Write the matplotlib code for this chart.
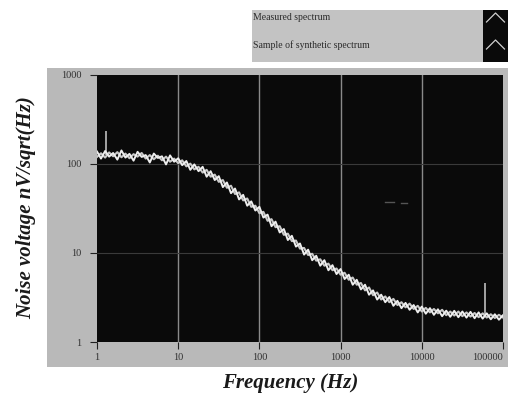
import matplotlib
matplotlib.use('Agg')
import matplotlib.pyplot as plt
from matplotlib.patches import Rectangle

# frequency grid (Hz), 20 points per decade
freq_hz = [
    1.00, 1.12, 1.26, 1.41, 1.58, 1.78, 2.00, 2.24, 2.51, 2.82,
    3.16, 3.55, 3.98, 4.47, 5.01, 5.62, 6.31, 7.08, 7.94, 8.91,
    10.0, 11.2, 12.6, 14.1, 15.8, 17.8, 20.0, 22.4, 25.1, 28.2,
    31.6, 35.5, 39.8, 44.7, 50.1, 56.2, 63.1, 70.8, 79.4, 89.1,
    100, 112, 126, 141, 158, 178, 200, 224, 251, 282,
    316, 355, 398, 447, 501, 562, 631, 708, 794, 891,
    1000, 1120, 1260, 1410, 1580, 1780, 2000, 2240, 2510, 2820,
    3160, 3550, 3980, 4470, 5010, 5620, 6310, 7080, 7940, 8910,
    10000, 11200, 12600, 14100, 15800, 17800, 20000, 22400, 25100, 28200,
    31600, 35500, 39800, 44700, 50100, 56200, 63100, 70800, 79400, 89100,
    100000,
]

# measured noise spectrum, nV/sqrt(Hz)
measured = [
    138, 115, 140, 121, 133, 112, 142, 118, 130, 109,
    137, 120, 126, 104, 131, 117, 122, 99, 125, 106,
    116, 97, 108, 86, 99, 83, 93, 72, 83, 66,
    73, 55, 62, 47, 53, 40, 45, 34, 38, 30,
    33, 25, 27, 20, 22.5, 17, 18.6, 14, 15.6, 11.8,
    12.8, 9.6, 10.9, 8.3, 9.3, 7.2, 8.3, 6.4, 7.3, 5.8,
    6.6, 5.1, 5.7, 4.4, 5.0, 3.9, 4.4, 3.4, 3.8, 3.0,
    3.4, 2.8, 3.2, 2.55, 2.9, 2.4, 2.75, 2.3, 2.6, 2.15,
    2.5, 2.08, 2.4, 2.02, 2.33, 1.95, 2.25, 1.92, 2.24, 1.9,
    2.2, 1.88, 2.18, 1.85, 2.15, 1.83, 2.1, 1.8, 2.05, 1.78,
    2.0,
]

# sample of synthetic spectrum, nV/sqrt(Hz)
synthetic = [
    120, 132, 118, 135, 122, 136, 119, 131, 116, 129,
    121, 133, 115, 126, 113, 124, 110, 121, 106, 115,
    102, 110, 94, 101, 87, 93, 80, 86, 72, 76,
    63, 66, 54, 57, 46, 48, 39, 41, 33, 34,
    28, 29, 23, 24, 19.5, 20, 16, 16.5, 13.6, 13.8,
    11.2, 11.4, 9.5, 9.8, 8.2, 8.5, 7.2, 7.6, 6.4, 6.7,
    5.7, 6.0, 5.0, 5.3, 4.4, 4.6, 3.8, 4.1, 3.35, 3.6,
    3.0, 3.25, 2.8, 3.05, 2.6, 2.8, 2.45, 2.7, 2.35, 2.55,
    2.2, 2.42, 2.15, 2.35, 2.1, 2.3, 2.0, 2.2, 1.98, 2.2,
    1.95, 2.15, 1.93, 2.12, 1.9, 2.1, 1.88, 2.05, 1.86, 2.02,
    1.88,
]

# isolated spikes (freq, low, high)
spike_freq = [1.3, 60000]
spike_low = [125, 1.95]
spike_high = [235, 4.6]

# faint stray marks
stray_freq = [3500, 4500, 5600, 6600]
stray_val = [37, 37, 36, 36]

x_ticks = [1, 10, 100, 1000, 10000, 100000]
x_tick_labels = ['1', '10', '100', '1000', '10000', '100000']
y_ticks = [1, 10, 100, 1000]
y_tick_labels = ['1', '10', '100', '1000']

legend_labels = ['Measured spectrum', 'Sample of synthetic spectrum']

W, H = 508, 398
fig = plt.figure(figsize=(W / 100, H / 100), dpi=100)
fig.patch.set_facecolor('white')

serif = ['Liberation Serif', 'DejaVu Serif']

# gray panel behind the plot
fig.patches.append(Rectangle((47 / W, 1 - 367 / H), (W - 47) / W, 299 / H,
                             transform=fig.transFigure, facecolor='#b9b9b9',
                             edgecolor='none', zorder=-2))
# legend panel
fig.patches.append(Rectangle((252 / W, 1 - 62 / H), 231 / W, 52 / H,
                             transform=fig.transFigure, facecolor='#c3c3c3',
                             edgecolor='none', zorder=-2))
fig.patches.append(Rectangle((483 / W, 1 - 62 / H), 25 / W, 52 / H,
                             transform=fig.transFigure, facecolor='#0a0a0a',
                             edgecolor='none', zorder=-1))
for i, lab in enumerate(legend_labels):
    ypix = 18 + i * 27
    fig.text(253 / W, 1 - ypix / H, lab, fontsize=7, family=serif,
             color='#2a2a2a', va='center', ha='left')
    # little caret glyph in the black swatch
    cx = 495.5 / W
    cy = 1 - (ypix - 1) / H
    fig.lines.append(plt.Line2D([cx - 9 / W, cx, cx + 9 / W],
                                [cy - 5 / H, cy + 4 / H, cy - 5 / H],
                                transform=fig.transFigure, color='#d0d0d0',
                                lw=0.9, zorder=2))

ax = fig.add_axes([97 / W, 1 - 342 / H, (503 - 97) / W, (342 - 75) / H])
ax.set_zorder(3)
ax.set_facecolor('#0a0a0a')
ax.set_xscale('log')
ax.set_yscale('log')
ax.set_xlim(1, 100000)
ax.set_ylim(1, 1000)

for xv in x_ticks[1:-1]:
    ax.axvline(xv, color='#8a8a8a', lw=1.0, zorder=1)
for yv in y_ticks[1:-1]:
    ax.axhline(yv, color='#3a3a3a', lw=0.8, zorder=1)

ax.plot(freq_hz, synthetic, color='#c8c8c8', lw=1.5, zorder=3)
ax.plot(freq_hz, measured, color='#eeeeee', lw=1.4, zorder=4)
ax.vlines(spike_freq, spike_low, spike_high, color='#bdbdbd', lw=1.2, zorder=3)
ax.plot(stray_freq[:2], stray_val[:2], color='#555555', lw=1.0, zorder=2)
ax.plot(stray_freq[2:], stray_val[2:], color='#555555', lw=1.0, zorder=2)

ax.set_xticks(x_ticks)
ax.set_xticklabels(x_tick_labels)
ax.set_yticks(y_ticks)
ax.set_yticklabels(y_tick_labels)
ax.minorticks_off()
ax.tick_params(direction='out', length=5, width=0.8, color='#202020',
               labelsize=7.5, labelcolor='#303030', pad=3)
ax.tick_params(axis='y', pad=6)
for lab in ax.get_xticklabels() + ax.get_yticklabels():
    lab.set_family(serif)
ax.get_xticklabels()[-1].set_horizontalalignment('right')
for side in ['top', 'right', 'left', 'bottom']:
    ax.spines[side].set_visible(False)

fig.text(290 / W, 1 - 383 / H, 'Frequency (Hz)', fontsize=15, family=serif,
         style='italic', weight='bold', color='#1a1a1a',
         ha='center', va='center')
fig.text(26 / W, 1 - 208 / H, 'Noise voltage nV/sqrt(Hz)', fontsize=15,
         family=serif, style='italic', weight='bold', color='#1a1a1a',
         rotation=90, ha='center', va='center')

fig.savefig('out.png', dpi=100)
